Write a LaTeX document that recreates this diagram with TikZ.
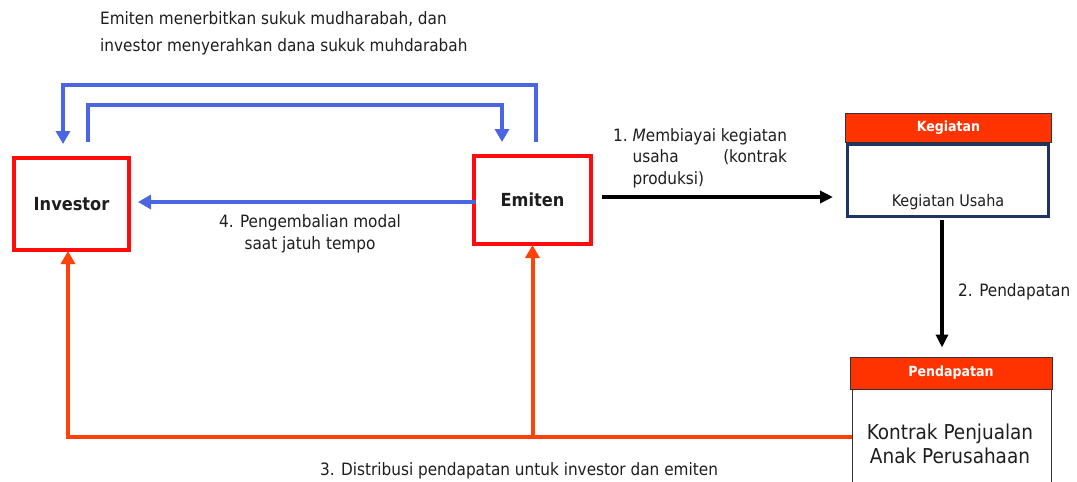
\documentclass[tikz,border=0pt]{standalone}
\usepackage{fontspec}
\setmainfont{DejaVu Sans Condensed}
\usetikzlibrary{arrows.meta}
\definecolor{boxred}{RGB}{255,12,12}
\definecolor{flowred}{RGB}{255,66,10}
\definecolor{flowblue}{RGB}{74,102,226}
\definecolor{headred}{RGB}{255,51,0}
\definecolor{navyline}{RGB}{30,52,100}
\definecolor{inkgray}{RGB}{30,30,30}
\newlength{\finlen}

\begin{document}
\begin{tikzpicture}[x=1pt,y=-1pt,
  every node/.style={text=inkgray},
  party/.style={draw=boxred, line width=4pt, minimum width=115pt, minimum height=92pt,
    font=\bfseries\fontsize{18}{21}\selectfont},
  header/.style={draw=black!80, line width=1pt, fill=headred, minimum width=206pt,
    font=\bfseries\fontsize{14}{16}\selectfont, text=white},
  panel/.style={minimum width=200pt},
  txt/.style={font=\fontsize{17}{20}\selectfont, inner sep=0pt},
  bluearrow/.style={draw=flowblue, line width=4pt, -{Triangle[length=13pt,width=14pt]}},
  redarrow/.style={draw=flowred, line width=4pt, -{Triangle[length=13pt,width=14pt]}},
  blackarrow/.style={draw=black, line width=3.5pt, -{Triangle[length=13pt,width=12pt]}},
]
\useasboundingbox (0,0) rectangle (1077,482);

% helper rows
\coordinate (outerTop) at (0,85);
\coordinate (innerTop) at (0,105);
\coordinate (retRow) at (0,202);
\coordinate (finRow) at (0,197);
\coordinate (distRow) at (0,437);

% the two parties
\node[party] (inv) at (71.5,204) {Investor};
\node[party, minimum width=117pt, minimum height=88pt] (emi) at (532.5,200) {Emiten};

% business activity panel
\node[header, minimum height=29pt] (kegh) at (948.5,127.5) {Kegiatan};
\node[panel, draw=navyline, line width=3pt, minimum width=201pt, minimum height=72pt] (keg) at (948,180.5) {};
\node[txt, font=\fontsize{16}{18}\selectfont] (kegt) at (948,202) {Kegiatan Usaha};

% income panel
\node[header, minimum width=202pt, minimum height=32pt] (pendh) at (951,373) {Pendapatan};
\node[panel, draw=black!80, line width=1pt, minimum width=199pt, minimum height=110pt,
  anchor=north] (pend) at (951.5,389) {};
\node[align=center, font=\fontsize{20.5}{24}\selectfont, inner sep=0pt] (pendt) at (950,444)
  {Kontrak Penjualan\\Anak Perusahaan};

% issuance and funding loop
\draw[bluearrow, shorten <=12pt, shorten >=12pt]
  ([xshift=3.5pt]emi.north) -- ([xshift=3.5pt]emi.north |- outerTop)
  -| ([xshift=-8.5pt]inv.north);
\draw[bluearrow, shorten <=14pt, shorten >=12pt]
  ([xshift=16.5pt]inv.north) -- ([xshift=16.5pt]inv.north |- innerTop)
  -| ([xshift=-30.5pt]emi.north);

% repayment of capital
\draw[bluearrow, shorten <=-4pt, shorten >=7pt] (emi.west |- retRow) -- (inv.east |- retRow);

% financing of the business
\draw[blackarrow, shorten <=9pt, shorten >=13pt] (emi.east |- finRow) -- (keg.west |- finRow);

% income flow
\draw[blackarrow, shorten <=2pt, shorten >=9pt] ([xshift=-6pt]keg.south) -- ([xshift=-9pt]pendh.north);

% distribution of income
\draw[redarrow, shorten >=-1pt] (pend.west |- distRow) -| ([xshift=-3.5pt]inv.south);
\draw[redarrow, shorten >=-1pt] (emi.south |- distRow) -- (emi.south);

% labels
\node[txt, anchor=west, align=left, font=\fontsize{17}{27}\selectfont] (lblTop) at (100,33)
  {Emiten menerbitkan sukuk mudharabah, dan\\investor menyerahkan dana sukuk muhdarabah};
\node[txt, align=center, font=\fontsize{17}{22.5}\selectfont] (lblRet) at (310,234)
  {4. Pengembalian modal\\saat jatuh tempo};
\node[txt, anchor=north west, font=\fontsize{17}{21.5}\selectfont] (lblFin) at (613,128)
  {\settowidth{\finlen}{\textit{M}embiayai kegiatan}%
   1.\ \parbox[t]{\finlen}{\textit{M}embiayai kegiatan\\
    \makebox[\linewidth][s]{usaha\hfill(kontrak}\\produksi)}};
\node[txt, anchor=west] (lblInc) at (958,292) {2. Pendapatan};
\node[txt] (lblDist) at (519,471) {3. Distribusi pendapatan untuk investor dan emiten};
\end{tikzpicture}
\end{document}
